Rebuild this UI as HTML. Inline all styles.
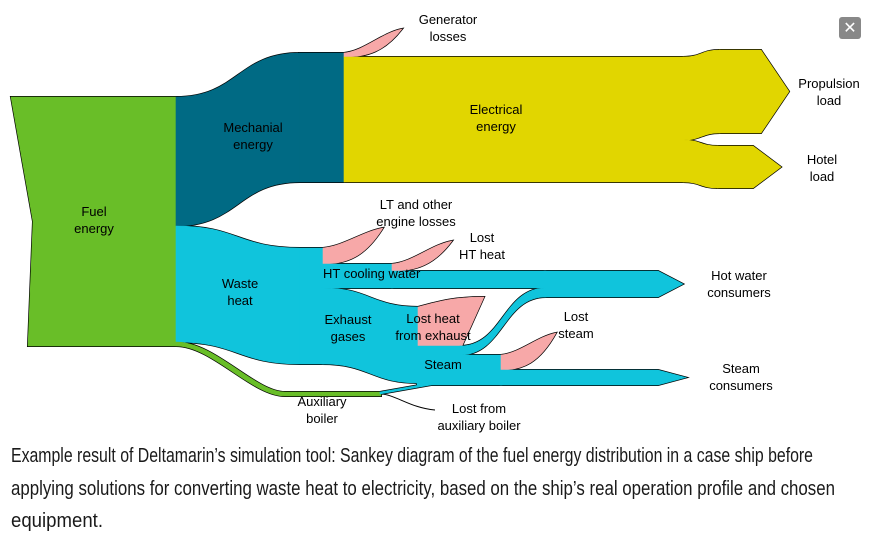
<!DOCTYPE html>
<html><head><meta charset="utf-8"><style>
html,body{margin:0;padding:0;background:#fff;width:874px;height:539px;overflow:hidden}
svg{display:block}
.l{font-family:"Liberation Sans",sans-serif;font-size:13px;fill:#000}
.c{font-family:"Liberation Sans Narrow","Liberation Sans",sans-serif;font-size:20px;fill:#1a1a1a}
</style></head><body>
<svg id="chart" width="874" height="539" viewBox="0 0 874 539" xmlns="http://www.w3.org/2000/svg">
<g id="outlines"></g>
<g id="flows"></g>
<g id="labels"></g>
<g>
<rect x="839" y="17" width="22" height="22" rx="3" fill="#888"/>
<text x="850" y="33" text-anchor="middle" font-family="Liberation Sans,sans-serif" font-size="16" fill="#fff">✕</text>
</g>
<g>
<text class="c" x="11" y="462" textLength="802" lengthAdjust="spacingAndGlyphs">Example result of Deltamarin’s simulation tool: Sankey diagram of the fuel energy distribution in a case ship before</text>
<text class="c" x="11" y="495" textLength="824" lengthAdjust="spacingAndGlyphs">applying solutions for converting waste heat to electricity, based on the ship’s real operation profile and chosen</text>
<text class="c" x="11" y="527" textLength="92" lengthAdjust="spacingAndGlyphs">equipment.</text>
</g>
</svg>
<script>
// flow values (energy units, 1 unit = 1px)
const nodeNames = ["Fuel","Mechanical","Waste heat","Auxiliary boiler"];
const fuelSplit = [129, 116, 4];            // mechanical, waste heat, aux boiler
const mechSplit = [4, 125];                 // generator losses, electrical
const elecSplit = [83, 42];                 // propulsion, hotel
const wasteSplit = [16, 24, 76];            // LT losses, HT cooling, exhaust
const htSplit = [7, 17];                    // lost HT, to hot water
const exhaustSplit = [39, 9, 28];           // lost exhaust, to hot water, steam
const steamSplit = [15, 15];                // lost steam, steam consumers
const auxSplit = [2, 2];                    // lost aux, to steam

const NS = "http://www.w3.org/2000/svg";
const flows = document.getElementById('flows');
const outlines = document.getElementById('outlines');
const labels = document.getElementById('labels');
const GREEN="#69be28", TEAL="#006a84", YEL="#e1d600", CY="#10c4dc", PINK="#f7a8a8";
function add(d, fill, name){
  const o=document.createElementNS(NS,'path');
  o.setAttribute('d',d);o.setAttribute('fill','none');o.setAttribute('stroke','#000');
  o.setAttribute('stroke-width', fill==='none' ? '1' : '2');
  
  
  outlines.appendChild(o);
  if(fill==='none') return;
  const p=document.createElementNS(NS,'path');
  p.setAttribute('d',d);p.setAttribute('fill',fill);p.setAttribute('stroke',fill);p.setAttribute('stroke-width','0.6');
  
  
  flows.appendChild(p);
}
function band(xa,ya,xb,yb,h,ha){
  if(ha===undefined) ha=h;
  const m=(xa+xb)/2;
  return `M${xa},${ya} C${m},${ya} ${m},${yb} ${xb},${yb} L${xb},${yb+h} C${m},${yb+h} ${m},${ya+ha} ${xa},${ya+ha} Z`;
}
function wedge(x,y,h,tx,ty){
  return `M${x},${y} C${x+(tx-x)*0.35},${y-2} ${tx-(tx-x)*0.35},${ty+4} ${tx},${ty} C${tx-(tx-x)*0.3},${ty+(y+h-ty)*0.8} ${x+(tx-x)*0.4},${y+h} ${x},${y+h} Z`;
}
function arrow(x0,x1,tip,y,h){
  return `M${x0},${y} L${x1},${y} L${tip},${y+h/2} L${x1},${y+h} L${x0},${y+h} Z`;
}
const F = fuelSplit[0]+fuelSplit[1]+fuelSplit[2];
const top0 = 97;
add(`M11,${top0} L176,${top0} L176,${top0+F} L28,${top0+F} L33,${top0+F/2} Z`, GREEN, 'fuel-energy-node');
const mechTop=53;
add(band(176,top0,300,mechTop,fuelSplit[0])+` M299,${mechTop} L345,${mechTop} L345,${mechTop+fuelSplit[0]} L299,${mechTop+fuelSplit[0]} Z`, TEAL, 'mechanical-energy-node');
add(wedge(344,mechTop,mechSplit[0],402,29), PINK, 'generator-losses-flow');
const eTop = mechTop+mechSplit[0];
add(`M344,${eTop} L684,${eTop} L684,${eTop+mechSplit[1]} L344,${eTop+mechSplit[1]} Z`, YEL, 'electrical-energy-node');
const pH=elecSplit[0], hH=elecSplit[1];
add(band(683,eTop,720,eTop-7,pH), YEL, 'propulsion-band');
add(arrow(719,761,789,eTop-7,pH), YEL, 'propulsion-load-arrow');
add(band(683,eTop+pH,718,eTop+pH+6,hH), YEL, 'hotel-band');
add(arrow(717,753,781,eTop+pH+6,hH), YEL, 'hotel-load-arrow');
const wTop = top0+fuelSplit[0], wH = fuelSplit[1];
const wTop2 = 248;
add(band(176,wTop,300,wTop2,wH)+` M299,${wTop2} L324,${wTop2} L324,${wTop2+wH} L299,${wTop2+wH} Z`, CY, 'waste-heat-node');
add(wedge(323,wTop2,wasteSplit[0],383,228), PINK, 'lt-engine-losses-flow');
const htTop = wTop2+wasteSplit[0];
add(`M322,${htTop} L393,${htTop} L393,${htTop+wasteSplit[1]} L322,${htTop+wasteSplit[1]} Z`, CY, 'ht-cooling-water-band');
add(wedge(392,htTop,htSplit[0],452,241), PINK, 'lost-ht-heat-flow');
const hwTop = htTop+htSplit[0];
add(`M391,${hwTop} L546,${hwTop} L546,${hwTop+htSplit[1]} L391,${hwTop+htSplit[1]} Z`, CY, 'ht-to-hot-water-band');
const hwH = htSplit[1]+exhaustSplit[1];
add(arrow(544,658,683,hwTop,hwH), CY, 'hot-water-consumers-arrow');
const exTop = htTop+wasteSplit[1], exH = wasteSplit[2], exTop2 = exTop+19;
add(band(322,exTop,419,exTop2,exH), CY, 'exhaust-gases-band');
const lxH = exhaustSplit[0];
add(`M418,${exTop2} C440,${exTop2-6} 455,${exTop2-10} 484,${exTop2-10} L462,${exTop2+lxH} L418,${exTop2+lxH} Z`, PINK, 'lost-heat-exhaust-flow');
const thinTop = exTop2+lxH;
add(band(460,thinTop,546,hwTop+htSplit[1],exhaustSplit[1]), CY, 'exhaust-to-hot-water-band');
add(`M417,${thinTop} L461,${thinTop} L461,${thinTop+exhaustSplit[1]} L417,${thinTop+exhaustSplit[1]} Z`, CY, 'exhaust-to-hot-water-start');
const stTop = thinTop+exhaustSplit[1], stH = exhaustSplit[2]+auxSplit[1];
add(`M417,${stTop} L502,${stTop} L502,${stTop+stH} L417,${stTop+stH} Z`, CY, 'steam-node');
add(wedge(501,stTop,steamSplit[0],556,333), PINK, 'lost-steam-flow');
add(arrow(500,658,686,stTop+steamSplit[0],stH-steamSplit[0]), CY, 'steam-consumers-arrow');
const aTop = top0+fuelSplit[0]+fuelSplit[1];
add(`M176,${aTop} C215,${aTop} 255,${392} 285,${392} L381,392 L381,${392+fuelSplit[2]} L285,${392+fuelSplit[2]} C252,${392+fuelSplit[2]} 212,${aTop+fuelSplit[2]} 176,${aTop+fuelSplit[2]} Z`, GREEN, 'auxiliary-boiler-band');
add(`M380,392 L431,${stTop+stH-auxSplit[1]} L431,${stTop+stH} L380,${392+auxSplit[1]} Z`, CY, 'aux-to-steam-band');
add(`M380,${392+auxSplit[1]} C395,${394} 410,408 435,410`, 'none', 'lost-aux-boiler-line');

const labelData = [
 ["Generator","losses",448,24,'generator-losses-label'],
 ["Electrical","energy",496,114,'electrical-energy-label'],
 ["Propulsion","load",829,88,'propulsion-load-label'],
 ["Hotel","load",822,164,'hotel-load-label'],
 ["Mechanial","energy",253,132,'mechanical-energy-label'],
 ["Fuel","energy",94,216,'fuel-energy-label'],
 ["LT and other","engine losses",416,209,'lt-losses-label'],
 ["Lost","HT heat",482,242,'lost-ht-label'],
 ["Waste","heat",240,288,'waste-heat-label'],
 ["Hot water","consumers",739,280,'hot-water-label'],
 ["Exhaust","gases",348,324,'exhaust-gases-label'],
 ["Lost heat","from exhaust",433,323,'lost-exhaust-label'],
 ["Lost","steam",576,321,'lost-steam-label'],
 ["Steam","consumers",741,373,'steam-consumers-label'],
 ["Auxiliary","boiler",322,406,'aux-boiler-label'],
 ["Lost from","auxiliary boiler",479,413,'lost-aux-label']
];
labelData.forEach(d=>{
  const t=document.createElementNS(NS,'text');
  t.setAttribute('class','l');t.setAttribute('text-anchor','middle');
  
  
  const a=document.createElementNS(NS,'tspan');a.setAttribute('x',d[2]);a.setAttribute('y',d[3]);a.textContent=d[0];
  const b=document.createElementNS(NS,'tspan');b.setAttribute('x',d[2]);b.setAttribute('y',d[3]+17);b.textContent=d[1];
  t.appendChild(a);t.appendChild(b);labels.appendChild(t);
});
[["HT cooling water",323,278,'start','ht-cooling-label'],["Steam",443,369,'middle','steam-label']].forEach(d=>{
  const t=document.createElementNS(NS,'text');
  t.setAttribute('class','l');t.setAttribute('x',d[1]);t.setAttribute('y',d[2]);t.setAttribute('text-anchor',d[3]);
  
  
  t.textContent=d[0];labels.appendChild(t);
});
</script>
</body></html>
